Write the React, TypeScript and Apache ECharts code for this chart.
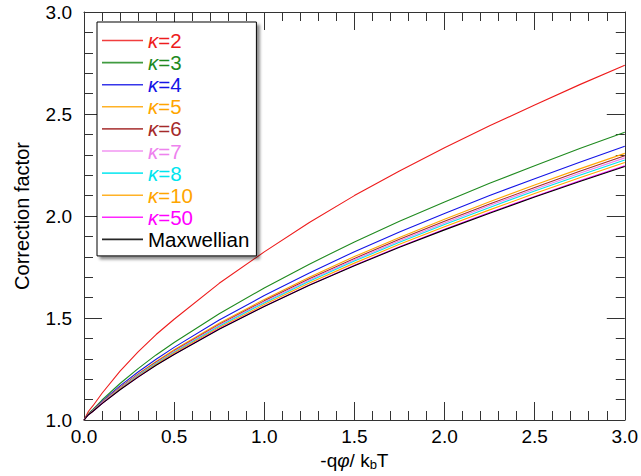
import React, { useEffect, useRef } from 'react';
import * as echarts from 'echarts';

const xValues = [0, 0.025, 0.05, 0.1, 0.2, 0.3, 0.4, 0.5, 0.75, 1.0, 1.25, 1.5, 1.75, 2.0, 2.25, 2.5, 2.75, 3.0];
const kappa2 = [1.0, 1.043, 1.07, 1.131, 1.24, 1.334, 1.419, 1.494, 1.67, 1.824, 1.968, 2.1, 2.221, 2.334, 2.442, 2.544, 2.644, 2.739];
const kappa3 = [1.0, 1.032, 1.052, 1.098, 1.179, 1.252, 1.319, 1.38, 1.521, 1.647, 1.764, 1.873, 1.974, 2.069, 2.16, 2.246, 2.331, 2.411];
const kappa4 = [1.0, 1.029, 1.048, 1.091, 1.167, 1.235, 1.298, 1.356, 1.49, 1.61, 1.721, 1.825, 1.922, 2.012, 2.1, 2.183, 2.264, 2.342];
const kappa5 = [1.0, 1.028, 1.046, 1.087, 1.16, 1.226, 1.287, 1.344, 1.474, 1.591, 1.7, 1.801, 1.895, 1.984, 2.07, 2.152, 2.231, 2.307];
const kappa6 = [1.0, 1.028, 1.046, 1.086, 1.158, 1.223, 1.283, 1.339, 1.468, 1.584, 1.692, 1.792, 1.886, 1.974, 2.059, 2.14, 2.219, 2.295];
const kappa7 = [1.0, 1.027, 1.045, 1.085, 1.156, 1.221, 1.28, 1.336, 1.464, 1.579, 1.686, 1.785, 1.879, 1.966, 2.051, 2.131, 2.21, 2.285];
const kappa8 = [1.0, 1.027, 1.045, 1.084, 1.154, 1.218, 1.277, 1.332, 1.46, 1.574, 1.68, 1.779, 1.871, 1.958, 2.042, 2.123, 2.2, 2.275];
const kappa10 = [1.0, 1.027, 1.044, 1.082, 1.152, 1.215, 1.273, 1.328, 1.453, 1.566, 1.671, 1.769, 1.861, 1.947, 2.03, 2.11, 2.187, 2.262];
const kappa50 = [1.0, 1.026, 1.043, 1.081, 1.149, 1.211, 1.269, 1.322, 1.447, 1.558, 1.662, 1.759, 1.849, 1.935, 2.017, 2.096, 2.173, 2.246];
const maxwellian = [1.0, 1.026, 1.043, 1.08, 1.148, 1.21, 1.268, 1.321, 1.445, 1.556, 1.66, 1.756, 1.847, 1.932, 2.014, 2.093, 2.169, 2.243];

const seriesNames = ['κ=2', 'κ=3', 'κ=4', 'κ=5', 'κ=6', 'κ=7', 'κ=8', 'κ=10', 'κ=50', 'Maxwellian'];
const seriesValues = [kappa2, kappa3, kappa4, kappa5, kappa6, kappa7, kappa8, kappa10, kappa50, maxwellian];
const seriesColors = ['#ee1c1c', '#1f8a1f', '#1414e6', '#ffa500', '#a52a2a', '#ee82ee', '#00e5ee', '#ffa500', '#ff00ff', '#000000'];

const FONT = '"Liberation Sans", Arial, Helvetica, sans-serif';
const AXIS_COLOR = '#333';

export default function App() {
  const ref = useRef<HTMLDivElement>(null);
  useEffect(() => {
    if (!ref.current) return;
    const chart = echarts.init(ref.current, undefined, { renderer: 'svg' });
    const tickCommon = {
      axisLine: { show: true, onZero: false, lineStyle: { color: AXIS_COLOR, width: 1 } },
      axisTick: { show: true, inside: true, length: 18, lineStyle: { color: AXIS_COLOR, width: 1 } },
      minorTick: { show: true, splitNumber: 5, length: 9, lineStyle: { color: AXIS_COLOR, width: 1 } },
      splitLine: { show: false },
      minorSplitLine: { show: false },
    };
    const fmt = (v: number) => v.toFixed(1);
    const option: any = {
      animation: false,
      backgroundColor: '#fff',
      grid: { left: 84, right: 15, top: 12, bottom: 56, containLabel: false },
      xAxis: [
        {
          type: 'value', min: 0, max: 3, interval: 0.5, position: 'bottom',
          ...tickCommon,
          axisLabel: { formatter: fmt, fontSize: 19, color: '#000', margin: 7, fontFamily: FONT },
          name: '-q{i|φ}/ k{s|b}T',
          nameLocation: 'middle',
          nameGap: 30,
          nameTextStyle: {
            fontSize: 19, color: '#000', fontFamily: FONT,
            rich: {
              i: { fontSize: 19, fontStyle: 'italic', color: '#000', fontFamily: FONT },
              s: { fontSize: 13, color: '#000', fontFamily: FONT, verticalAlign: 'bottom', padding: [8, 0, 0, 0] },
            },
          },
        },
        {
          type: 'value', min: 0, max: 3, interval: 0.5, position: 'top',
          ...tickCommon,
          axisLabel: { show: false },
        },
      ],
      yAxis: [
        {
          type: 'value', min: 1, max: 3, interval: 0.5, position: 'left',
          ...tickCommon,
          axisLabel: { formatter: fmt, fontSize: 19, color: '#000', margin: 12, fontFamily: FONT },
          name: 'Correction factor',
          nameLocation: 'middle',
          nameGap: 52,
          nameTextStyle: { fontSize: 20, color: '#000', fontFamily: FONT },
        },
        {
          type: 'value', min: 1, max: 3, interval: 0.5, position: 'right',
          ...tickCommon,
          axisLabel: { show: false },
        },
      ],
      legend: {
        orient: 'vertical',
        left: 97,
        top: 22,
        padding: [8, 7, 6, 5],
        icon: 'rect',
        itemWidth: 41,
        itemHeight: 1.6,
        itemGap: 1.1,
        backgroundColor: '#fff',
        borderColor: '#000',
        borderWidth: 1,
        borderRadius: 0,
        shadowColor: 'rgba(0,0,0,0.45)',
        shadowOffsetX: 3,
        shadowOffsetY: 3,
        shadowBlur: 3,
        textStyle: { fontSize: 20.5, lineHeight: 20, fontFamily: FONT },
        formatter: (name: string) => (name.startsWith('κ') ? '{k|κ}' + name.slice(1) : name),
        data: seriesNames.map((n, i) => ({
          name: n,
          icon: 'rect',
          itemStyle: { color: seriesColors[i], opacity: 0.85 },
          textStyle: {
            color: seriesColors[i],
            fontSize: 20.5,
            lineHeight: 20,
            fontFamily: FONT,
            rich: { k: { fontStyle: 'italic', color: seriesColors[i], fontSize: 20.5, lineHeight: 20, fontFamily: FONT } },
          },
        })),
      },
      series: seriesNames.map((n, i) => ({
        name: n,
        type: 'line',
        xAxisIndex: 0,
        yAxisIndex: 0,
        symbol: 'none',
        smooth: false,
        lineStyle: { color: seriesColors[i], width: 1.1 },
        itemStyle: { color: seriesColors[i] },
        data: xValues.map((x, j) => [x, seriesValues[i][j]]),
      })),
    };
    chart.setOption(option);
    return () => chart.dispose();
  }, []);
  return <div ref={ref} style={{ position: 'fixed', left: 0, top: 0, width: 641, height: 476 }} />;
}
